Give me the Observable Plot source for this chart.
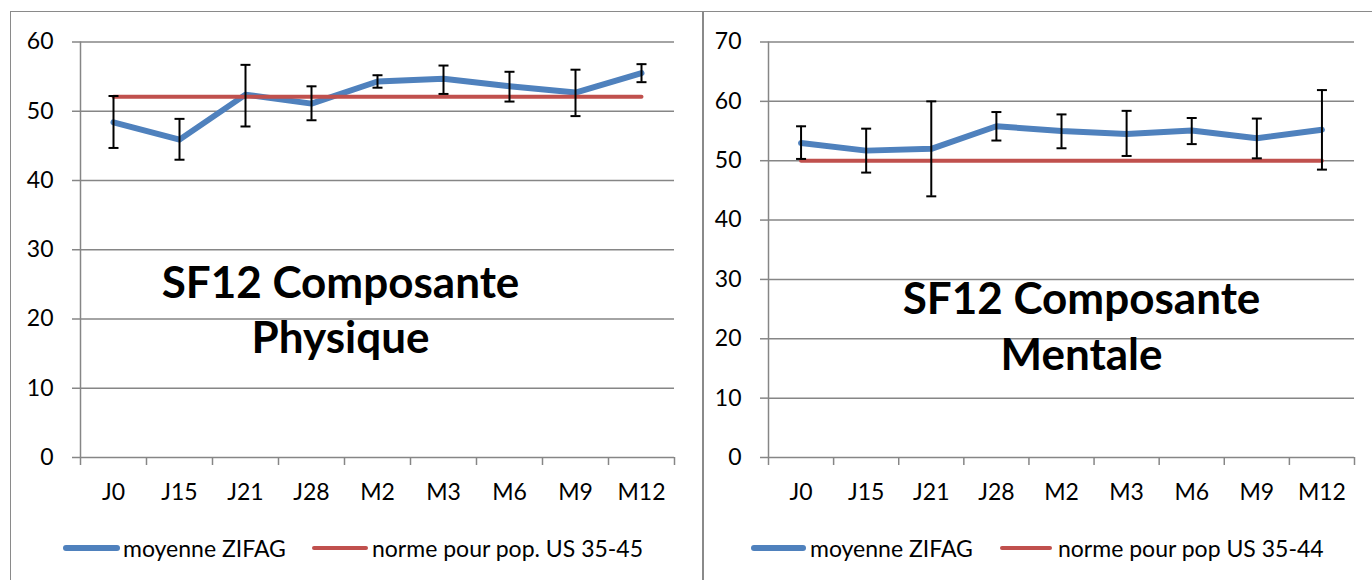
<!DOCTYPE html>
<html><head><meta charset="utf-8">
<script src="https://cdn.jsdelivr.net/npm/d3@7"></script>
<script src="https://cdn.jsdelivr.net/npm/@observablehq/plot@0.6"></script>
<style>
html,body{margin:0;padding:0;background:#fff;}
body{width:1372px;height:580px;overflow:hidden;position:relative;font-family:Lato,"Open Sans",sans-serif;color:#000;}
.box{position:absolute;border:1.5px solid #8a8a8a;box-sizing:border-box;}
.chart{position:absolute;}
.sw{position:absolute;border-radius:3px;}
.lt{position:absolute;font-size:23px;line-height:30px;white-space:nowrap;}
</style></head><body>
<div class="box" style="left:10px;top:11px;width:694px;height:640px"></div>
<div class="box" style="left:702px;top:11px;width:700px;height:640px"></div>
<div id="left" class="chart" style="left:11px;top:12px"></div>
<div id="right" class="chart" style="left:703px;top:12px"></div>

<div class="sw" style="left:63px;top:545px;width:57px;height:6px;background:#4f81bd"></div>
<div class="lt" id="l1a" style="left:123px;top:533px"></div>
<div class="sw" style="left:312px;top:546px;width:56px;height:4px;background:#c0504d"></div>
<div class="lt" id="l1b" style="left:372px;top:533px"></div>

<div class="sw" style="left:751px;top:545px;width:55px;height:6px;background:#4f81bd"></div>
<div class="lt" id="l2a" style="left:810px;top:533px"></div>
<div class="sw" style="left:1000px;top:546px;width:52px;height:4px;background:#c0504d"></div>
<div class="lt" id="l2b" style="left:1058px;top:533px"></div>

<script>
const categories = ["J0","J15","J21","J28","M2","M3","M6","M9","M12"];

const physMean = [48.4,45.9,52.4,51.1,54.3,54.7,53.6,52.7,55.5];
const physLow  = [44.7,43.0,47.8,48.7,53.4,52.5,51.4,49.3,54.2];
const physHigh = [52.2,48.9,56.7,53.6,55.2,56.6,55.7,56.0,56.8];
const physNorm = [52.1,52.1,52.1,52.1,52.1,52.1,52.1,52.1,52.1];

const mentMean = [53.0,51.7,52.0,55.8,55.0,54.5,55.1,53.8,55.2];
const mentLow  = [50.3,48.0,44.0,53.4,52.1,50.8,52.8,50.4,48.5];
const mentHigh = [55.8,55.4,60.0,58.2,57.8,58.4,57.2,57.1,61.9];
const mentNorm = [50,50,50,50,50,50,50,50,50];

const physTicks = [0,10,20,30,40,50,60];
const mentTicks = [0,10,20,30,40,50,60,70];

const seriesNames = ["moyenne ZIFAG"];
const normNames = ["norme pour pop. US 35-45","norme pour pop US 35-44"];
const titles = [["SF12 Composante","Physique"],["SF12 Composante","Mentale"]];

const cap = {draw(ctx, size){ const r = Math.sqrt(size/Math.PI); ctx.moveTo(-r,0); ctx.lineTo(r,0); }};
const GRAY = "#868686";

function chart({mean, low, high, norm, ticks, width, marginLeft, marginRight, title, tdx, tdy1, tdy2}) {
  const n = categories.length;
  const rows = categories.map((c,i)=>({pos: i+0.5, cat: c, mean: mean[i], low: low[i], high: high[i], norm: norm[i]}));
  const yMax = ticks[ticks.length-1];
  return Plot.plot({
    width, height: 568, marginTop: 29.5, marginBottom: 123, marginLeft, marginRight,
    style: {fontFamily: "Lato, 'Open Sans', sans-serif", fontSize: "23px", color: "#000", background: "transparent", overflow: "visible"},
    x: {domain: [0, n], axis: null},
    y: {domain: [0, yMax], axis: null},
    marks: [
      Plot.gridY(ticks.filter(t=>t>0), {stroke: GRAY, strokeOpacity: 1, strokeWidth: 1.5}),
      Plot.axisY({ticks, label: null, tickSize: 8, tickPadding: 19, stroke: GRAY, strokeWidth: 1.5, tickFormat: d=>String(d)}),
      Plot.ruleY([0], {stroke: GRAY, strokeWidth: 1.5}),
      Plot.ruleX([0], {stroke: GRAY, strokeWidth: 1.5}),
      Plot.axisX({ticks: d3.range(0, n+1), label: null, tickFormat: ()=>"", tickSize: 8, stroke: GRAY, strokeWidth: 1.5}),
      Plot.axisX({ticks: rows.map(d=>d.pos), label: null, tickFormat: v => categories[Math.floor(v)], tickSize: 0, tickPadding: 26}),
      Plot.line(rows, {x: "pos", y: "mean", stroke: "#4f81bd", strokeWidth: 6, strokeLinecap: "round", strokeLinejoin: "round"}),
      Plot.line(rows, {x: "pos", y: "norm", stroke: "#c0504d", strokeWidth: 4}),
      Plot.ruleX(rows, {x: "pos", y1: "low", y2: "high", stroke: "#000", strokeWidth: 2}),
      Plot.dot(rows, {x: "pos", y: "low", symbol: cap, r: 5, stroke: "#000", fill: "none", strokeWidth: 2}),
      Plot.dot(rows, {x: "pos", y: "high", symbol: cap, r: 5, stroke: "#000", fill: "none", strokeWidth: 2}),
      Plot.text([title[0]], {text: d=>d, frameAnchor: "top-left", dx: tdx, dy: tdy1, lineAnchor: "bottom", textAnchor: "middle", fontSize: 44, fontWeight: "bold"}),
      Plot.text([title[1]], {text: d=>d, frameAnchor: "top-left", dx: tdx, dy: tdy2, lineAnchor: "bottom", textAnchor: "middle", fontSize: 44, fontWeight: "bold"})
    ]
  });
}

document.getElementById("left").append(chart({
  mean: physMean, low: physLow, high: physHigh, norm: physNorm, ticks: physTicks,
  width: 692, marginLeft: 69, marginRight: 29, title: titles[0], tdx: 260, tdy1: 255.5, tdy2: 310.5
}));
document.getElementById("right").append(chart({
  mean: mentMean, low: mentLow, high: mentHigh, norm: mentNorm, ticks: mentTicks,
  width: 669, marginLeft: 65, marginRight: 18, title: titles[1], tdx: 313, tdy1: 271.5, tdy2: 327.5
}));

document.getElementById("l1a").textContent = seriesNames[0];
document.getElementById("l1b").textContent = normNames[0];
document.getElementById("l2a").textContent = seriesNames[0];
document.getElementById("l2b").textContent = normNames[1];
</script>
</body></html>
